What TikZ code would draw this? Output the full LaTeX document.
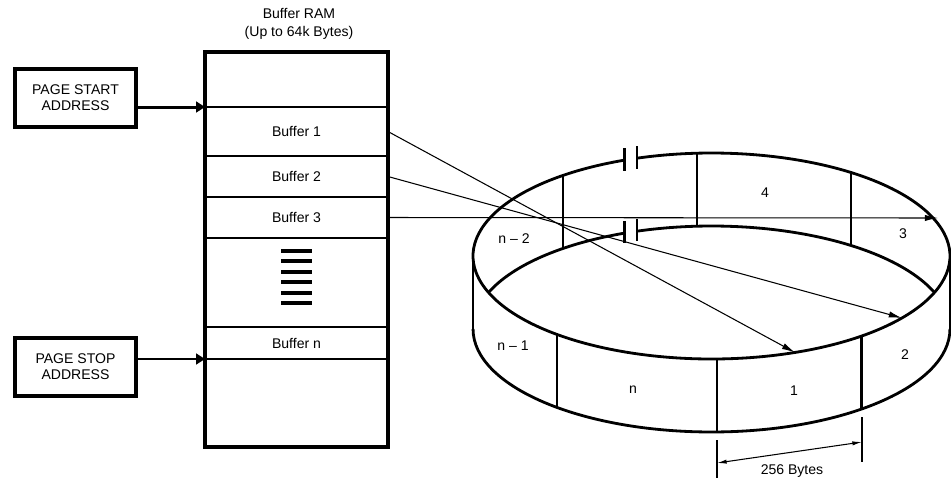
\documentclass[tikz,border=0pt]{standalone}
\usepackage{fontspec}
\setmainfont{Liberation Sans}
\usetikzlibrary{arrows.meta}

\begin{document}
\begin{tikzpicture}[x=0.02cm,y=-0.02cm,inner sep=0pt,outer sep=0pt,
font=\fontsize{8}{9}\selectfont,
addrbox/.style={draw,rectangle,line width=2.3pt,minimum width=2.42cm,minimum height=1.16cm,align=center},
ramrow/.style={draw,rectangle,line width=1.4pt,minimum width=3.66cm},
addrarrow/.style={line width=1.7pt,-{Triangle[length=5pt,width=6pt]}},
ptr/.style={line width=0.6pt,-{Latex[length=7.5pt,width=3.6pt]}},
ring/.style={line width=1.6pt},
rim/.style={x radius=4.77cm,y radius=2.06cm},
dimline/.style={line width=0.8pt},
dimarrow/.style={line width=0.6pt,{Latex[length=5.5pt,width=2.4pt]}-{Latex[length=5.5pt,width=2.4pt]}}]

\useasboundingbox (0,0) rectangle (951,478);

% buffer RAM
\draw (299,24) node[align=center,font=\fontsize{8}{10.2}\selectfont] (title) {Buffer RAM\\(Up to 64k Bytes)};
\draw (296.5,131.5) node[ramrow,minimum height=0.98cm] (b1) {Buffer 1};
\draw (296.5,176.5) node[ramrow,minimum height=0.82cm] (b2) {Buffer 2};
\draw (296.5,217.5) node[ramrow,minimum height=0.82cm] (b3) {Buffer 3};
\draw (296.5,282.5) node[ramrow,minimum height=1.78cm] (dots) {};
\draw (296.5,343) node[ramrow,minimum height=0.64cm] (bn) {Buffer n};
\foreach \i in {0,...,5}
  \draw[line width=2.4pt] (281,250.7+10.5*\i) -- (312,250.7+10.5*\i);
\draw (296.5,249.5) node[draw,rectangle,line width=2.3pt,minimum width=3.66cm,minimum height=7.9cm] (ram) {};

\draw (75.5,98) node[addrbox] (pstart) {PAGE START\\ADDRESS};
\draw (75.5,367) node[addrbox] (pstop) {PAGE STOP\\ADDRESS};
\draw[addrarrow] (pstart.east |- b1.north) -- (ram.west |- b1.north);
\draw[addrarrow] (pstop.east |- bn.south) -- (ram.west |- bn.south);

% ring of 256 byte pages
\coordinate (c) at (711.5,256);
\coordinate (d) at (711.5,329);
\draw[ring] (c) ++(111.3:4.77cm and 2.06cm) arc[rim,start angle=111.3,end angle=468.2];
\draw[ring] (d) ++(180:4.77cm and 2.06cm) arc[rim,start angle=180,end angle=360];
\draw[ring] (d) ++(20.75:4.77cm and 2.06cm) arc[rim,start angle=20.75,end angle=108.2];
\draw[ring] (d) ++(111.3:4.77cm and 2.06cm) arc[rim,start angle=111.3,end angle=159.25];
\draw[ring] (c) ++(180:4.77cm and 2.06cm) -- ++(0,73);
\draw[ring] (c) ++(0:4.77cm and 2.06cm) -- ++(0,73);
\foreach \t in {128.5,93.5,54.2,229.6,271.3,309.1}
  \draw[ring] (c) ++(\t:4.77cm and 2.06cm) -- ++(0,73);
\foreach \t in {108.2,111.3} {
  \draw[ring] (c) ++(\t:4.77cm and 2.06cm) ++(0,-12) -- ++(0,23);
  \draw[ring] (d) ++(\t:4.77cm and 2.06cm) ++(0,-12) -- ++(0,22);
}

\draw (765,193) node (seg4) {4};
\draw (903,234) node (seg3) {3};
\draw (514,239) node (segn2) {n -- 2};
\draw (513,346) node (segn1) {n -- 1};
\draw (633,390) node (segn) {n};
\draw (794,391) node (seg1) {1};
\draw (905,355) node (seg2) {2};

% pointers
\path (c) ++(290.5:4.77cm and 2.06cm) coordinate (p1);
\path (c) ++(323:4.77cm and 2.06cm) coordinate (p2);
\coordinate (p3) at (938,218);
\draw[ptr] (b1.east) -- (p1);
\draw[ptr] (b2.east) -- (p2);
\draw[ptr] (b3.east) -- (p3);

% page size
\coordinate (e1) at (717,440);
\coordinate (e2) at (862,417);
\draw[dimline] (e1) -- ++(0,38);
\draw[dimline] (e2) -- ++(0,45);
\coordinate (m1) at (717,463);
\coordinate (m2) at (862,442);
\draw[dimarrow] (m1) -- (m2);
\draw (792,471) node (bytes) {256 Bytes};
\end{tikzpicture}
\end{document}
